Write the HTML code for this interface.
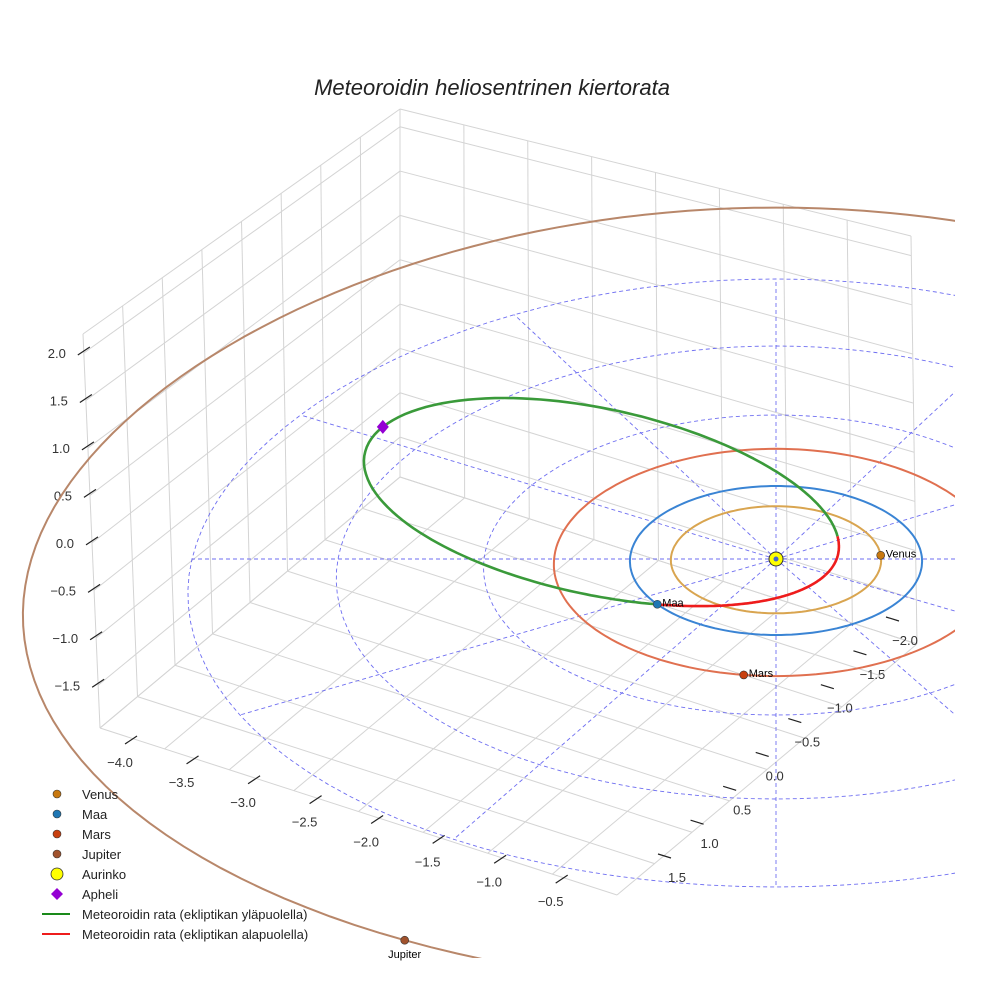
<!DOCTYPE html>
<html><head><meta charset="utf-8"><style>
html,body{margin:0;padding:0;background:#fff;}
svg{display:block;font-family:"Liberation Sans",sans-serif;}
</style></head><body>
<svg id="c" width="984" height="984" viewBox="0 0 984 984">
<defs><clipPath id="clip"><rect x="0" y="0" width="955" height="958"/></clipPath></defs>
<rect width="984" height="984" fill="#fff"/>
<text x="492" y="95" text-anchor="middle" font-size="22" font-style="italic" fill="#222">Meteoroidin heliosentrinen kiertorata</text>
<g id="box"></g>
<g id="ticks"></g>
<g id="plot" clip-path="url(#clip)"></g>
<g id="labels"></g>
<g id="legend"></g>
</svg>
<script>
// ---- data ----
const planetNames = ["Venus", "Maa", "Mars", "Jupiter"];
const planetRadii = [0.72, 1.0, 1.52, 5.1];
const planetAngles = [-4, 143, 98, 116];
const planetColors = ["#c8780f", "#1f77b4", "#c8400f", "#a0522d"];
const orbitColors = ["#d9a550", "#3a84d4", "#e07050", "#b8876a"];
const gridRadii = [1, 2, 3, 4];
const gridAngles = [0, 30, 60, 90, 120, 150, 180, 210, 240, 270, 300, 330];
const meteorPerihelion = [0.388];
const meteorAphelion = [3.27];
const meteorInclination = [2.8];
const meteorNode = [143];
const meteorPeriArg = [30];
const xTicks = ["−4.0", "−3.5", "−3.0", "−2.5", "−2.0", "−1.5", "−1.0", "−0.5"];
const yTicks = ["−2.0", "−1.5", "−1.0", "−0.5", "0.0", "0.5", "1.0", "1.5"];
const zTickValues = [2.0, 1.5, 1.0, 0.5, 0.0, -0.5, -1.0, -1.5];
const zTicks = ["2.0", "1.5", "1.0", "0.5", "0.0", "−0.5", "−1.0", "−1.5"];

const NS = "http://www.w3.org/2000/svg";
function mk(parent, tag, attrs) {
  const e = document.createElementNS(NS, tag);
  for (const k in attrs) e.setAttribute(k, attrs[k]);
  parent.appendChild(e);
  return e;
}
// projection
function P(x, y, z) {
  const c = y < 0 ? 1 : 2;
  return [776 + 146 * x * (1 + 0.03 * y), 559 + 74 * y + c * y * y - 94 * z];
}
function polar(r, deg, z) {
  const t = deg * Math.PI / 180;
  return P(r * Math.cos(t), r * Math.sin(t), z || 0);
}
function pathFrom(pts) {
  return pts.map((p, i) => (i ? "L" : "M") + p[0].toFixed(1) + "," + p[1].toFixed(1)).join("");
}
// box
const BK = [400, 477], LV = [-300, 251], RV = [517, 167];
function W(a, b, h) {
  return [BK[0] + a * LV[0] + b * RV[0] + (-17 * a - 6 * b) * h,
          BK[1] + a * LV[1] + b * RV[1] - (368 + 26 * a + 40 * b) * h];
}
function zh(z) { return (z + 1.95) / 4.15; }
const box = document.getElementById("box");
const gl = { stroke: "#d4d4d4", "stroke-width": 1, fill: "none" };
function line(g, p, q, st, name) {
  const l = mk(g, "line", Object.assign({ x1: p[0], y1: p[1], x2: q[0], y2: q[1] }, st));
  
  
  return l;
}
for (let k = 0; k <= 8; k++) {
  const a = k / 8;
  line(box, W(a, 0, 0), W(a, 0, 1), gl, "left-wall-gridline");
  line(box, W(0, a, 0), W(0, a, 1), gl, "back-wall-gridline");
  line(box, W(a, 0, 0), W(a, 1, 0), gl, "floor-gridline");
  line(box, W(0, a, 0), W(1, a, 0), gl, "floor-gridline");
}
const hs = zTickValues.map(zh).concat([0, 1]);
hs.forEach(h => {
  line(box, W(0, 0, h), W(1, 0, h), gl, "left-wall-gridline");
  line(box, W(0, 0, h), W(0, 1, h), gl, "back-wall-gridline");
});
// ticks
const tk = document.getElementById("ticks");
const tst = { stroke: "#222", "stroke-width": 1.2 };
xTicks.forEach((t, i) => {
  const b = 0.06 + i * 0.119;
  const e = W(1, b, 0);
  line(tk, [e[0] - 6, e[1] + 6], [e[0] + 6, e[1] - 2], tst, "x-tick-mark");
  const tx = mk(tk, "text", { x: e[0] - 11, y: e[1] + 29, "text-anchor": "middle", "font-size": 13, fill: "#333" });
  tx.textContent = t;
  
  
});
const Y0 = [905, 640], Y1 = [677, 877];
yTicks.forEach((t, i) => {
  const f = i / (yTicks.length - 1);
  const lx = Y0[0] + (Y1[0] - Y0[0]) * f, ly = Y0[1] + (Y1[1] - Y0[1]) * f;
  line(tk, [lx - 19, ly - 23], [lx - 6, ly - 19], tst, "y-tick-mark");
  const tx = mk(tk, "text", { x: lx, y: ly + 5, "text-anchor": "middle", "font-size": 13, fill: "#333" });
  tx.textContent = t;
  
  
});
zTicks.forEach((t, i) => {
  const e = W(1, 0, zh(zTickValues[i]));
  line(tk, [e[0] - 6, e[1] + 2], [e[0] + 6, e[1] - 6], tst, "z-tick-mark");
  const tx = mk(tk, "text", { x: e[0] - 18, y: e[1] + 5, "text-anchor": "end", "font-size": 13, fill: "#333" });
  tx.textContent = t;
  
  
});
// plot
const plot = document.getElementById("plot");
const labels = document.getElementById("labels");
const dash = { stroke: "#5555ee", "stroke-width": 0.9, fill: "none", "stroke-dasharray": "4,3", opacity: 0.85 };
gridRadii.forEach(r => {
  const pts = [];
  for (let d = 0; d <= 360; d += 3) pts.push(polar(r, d));
  const p = mk(plot, "path", Object.assign({ d: pathFrom(pts) }, dash));
  
  
});
gridAngles.forEach(a => {
  const p = mk(plot, "path", Object.assign({ d: pathFrom([polar(0, a), polar(4, a)]) }, dash));
  
  
});
planetNames.forEach((n, i) => {
  const pts = [];
  for (let d = 0; d <= 360; d += 2) pts.push(polar(planetRadii[i], d));
  const p = mk(plot, "path", { d: pathFrom(pts), stroke: orbitColors[i], "stroke-width": 2, fill: "none" });
  
  
});
// meteoroid orbit
const q = meteorPerihelion[0], Q = meteorAphelion[0];
const e = (Q - q) / (Q + q), pp = q * (1 + e);
const inc = meteorInclination[0] * Math.PI / 180;
function meteorPoint(nu) {
  const r = pp / (1 + e * Math.cos(nu));
  const th = nu + meteorPeriArg[0] * Math.PI / 180;
  const z = r * Math.sin(inc) * Math.sin(th - meteorNode[0] * Math.PI / 180);
  return { p: P(r * Math.cos(th), r * Math.sin(th), z), z: z };
}
let seg = [], segAbove = null;
function flush() {
  if (seg.length > 1) {
    const s = mk(plot, "path", { d: pathFrom(seg), stroke: segAbove ? "#3a9a3a" : "#ee1c1c", "stroke-width": 2.6, fill: "none", "stroke-linejoin": "round" });
    
    
  }
}
for (let d = 0; d <= 360; d += 1) {
  const m = meteorPoint(d * Math.PI / 180);
  const above = m.z >= 0;
  if (segAbove !== null && above !== segAbove) { seg.push(m.p); flush(); seg = [seg[seg.length - 1]]; }
  segAbove = above;
  seg.push(m.p);
}
flush();
// sun
const sp = P(0, 0, 0);
let el = mk(plot, "circle", { cx: sp[0], cy: sp[1], r: 7, fill: "#ffff00", stroke: "#333", "stroke-width": 1 });


el = mk(plot, "circle", { cx: sp[0], cy: sp[1], r: 2.5, fill: "#4466cc" });


// planets
planetNames.forEach((n, i) => {
  const p = polar(planetRadii[i], planetAngles[i]);
  const c = mk(labels, "circle", { cx: p[0], cy: p[1], r: 4, fill: planetColors[i], stroke: "#333", "stroke-width": 0.6 });
  
  
  const isJ = n === "Jupiter";
  const t = mk(labels, "text", { x: isJ ? p[0] : p[0] + 5, y: isJ ? p[1] + 18 : p[1] + 2, "text-anchor": isJ ? "middle" : "start", "font-size": 11, fill: "#000" });
  t.textContent = n;
  
  
});
// aphelion
const ap = meteorPoint(Math.PI).p;
el = mk(plot, "polygon", { points: [[ap[0], ap[1] - 7], [ap[0] + 6, ap[1]], [ap[0], ap[1] + 7], [ap[0] - 6, ap[1]]].map(v => v.join(",")).join(" "), fill: "#9400d3" });


// legend
const lg = document.getElementById("legend");
const legendLabels = ["Venus", "Maa", "Mars", "Jupiter", "Aurinko", "Apheli", "Meteoroidin rata (ekliptikan yläpuolella)", "Meteoroidin rata (ekliptikan alapuolella)"];
legendLabels.forEach((lab, i) => {
  const y = 794 + i * 20;
  let m;
  if (i < 4) m = mk(lg, "circle", { cx: 57, cy: y, r: 4, fill: planetColors[i], stroke: "#333", "stroke-width": 0.6 });
  else if (i === 4) m = mk(lg, "circle", { cx: 57, cy: y, r: 6, fill: "#ffff00", stroke: "#333", "stroke-width": 0.8 });
  else if (i === 5) m = mk(lg, "polygon", { points: `57,${y - 6} 63,${y} 57,${y + 6} 51,${y}`, fill: "#9400d3" });
  else m = mk(lg, "line", { x1: 42, y1: y, x2: 70, y2: y, stroke: i === 6 ? "#1a8a1a" : "#ee1c1c", "stroke-width": 2 });
  
  
  const t = mk(lg, "text", { x: 82, y: y + 5, "font-size": 13, fill: "#222" });
  t.textContent = lab;
  
  
});
</script>
</body></html>
